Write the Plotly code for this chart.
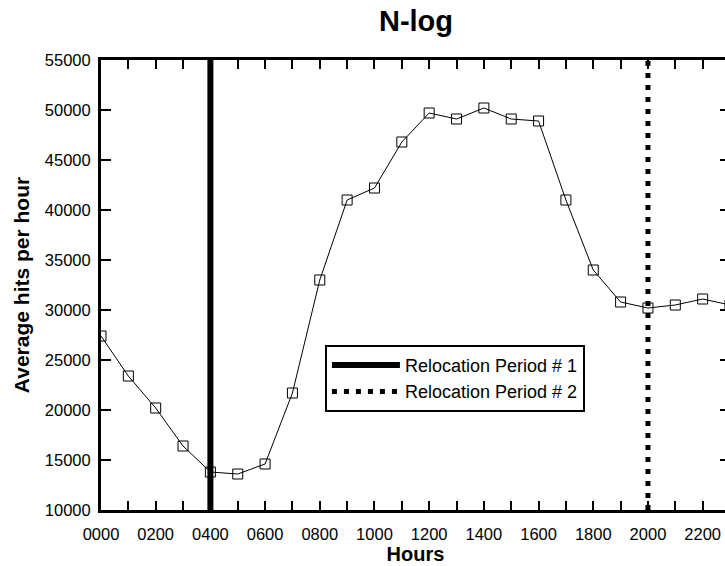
import plotly.graph_objects as go

# Average hourly hits, N-log
hours = list(range(24))
hits = [27400, 23400, 20200, 16400, 13800, 13600, 14600, 21700,
        33000, 41000, 42200, 46800, 49700, 49100, 50200, 49100,
        48900, 41000, 34000, 30800, 30200, 30500, 31100, 30500]

tick_labels = ["%02d00" % h if h % 2 == 0 else "" for h in hours]

relocation_1 = 4
relocation_2 = 20
y_min, y_max = 10000, 55000

font = "Arial, Liberation Sans, sans-serif"

fig = go.Figure()

fig.add_trace(go.Scatter(
    x=hours, y=hits, mode="lines+markers", showlegend=False,
    line=dict(color="black", width=1),
    marker=dict(symbol="square-open", size=10, color="black",
                line=dict(width=1, color="black")),
))

fig.add_trace(go.Scatter(
    x=[relocation_1, relocation_1], y=[y_min, y_max], mode="lines",
    name="Relocation Period # 1",
    line=dict(color="black", width=6),
))

fig.add_trace(go.Scatter(
    x=[relocation_2, relocation_2], y=[y_min, y_max], mode="lines",
    name="Relocation Period # 2",
    line=dict(color="black", width=5, dash="5px,7px"),
))

fig.update_layout(
    width=760, height=566,
    margin=dict(l=101, r=30, t=60, b=56),
    paper_bgcolor="white", plot_bgcolor="white",
    font=dict(family=font, size=16, color="black"),
    title=dict(text="<b>N-log</b>", x=(101 + 315) / 760, xanchor="center",
               y=1 - 21 / 566, yanchor="middle",
               font=dict(size=29, family=font, color="black")),
    legend=dict(x=0.356, y=0.367, xanchor="left", yanchor="top",
                bgcolor="white", bordercolor="black", borderwidth=2,
                font=dict(size=18, family=font, color="black"),
                itemwidth=68, tracegroupgap=0),
)

fig.update_xaxes(
    range=[0, 23], tickmode="array", tickvals=hours, ticktext=tick_labels,
    ticks="inside", ticklen=9, tickwidth=1.5, tickcolor="black",
    tickfont=dict(size=16.5, family=font, color="black"),
    ticklabelstandoff=7, automargin=False,
    showline=True, linewidth=3, linecolor="black", mirror="ticks",
    showgrid=False, zeroline=False,
    title=dict(text="<b>Hours</b>", standoff=5,
               font=dict(size=20, family=font, color="black")),
)

fig.update_yaxes(
    range=[y_min, y_max], dtick=5000, tick0=0, tickformat="d",
    ticks="inside", ticklen=10, tickwidth=1.5, tickcolor="black",
    tickfont=dict(size=16.5, family=font, color="black"),
    ticklabelstandoff=4, automargin=False,
    showline=True, linewidth=3, linecolor="black", mirror="ticks",
    showgrid=False, zeroline=False,
    title=dict(text="<b>Average hits per hour</b>", standoff=10,
               font=dict(size=21, family=font, color="black")),
)

fig.write_html("out.html",
               post_script="document.body.style.margin='0';"
                           "document.body.style.overflow='hidden';")
